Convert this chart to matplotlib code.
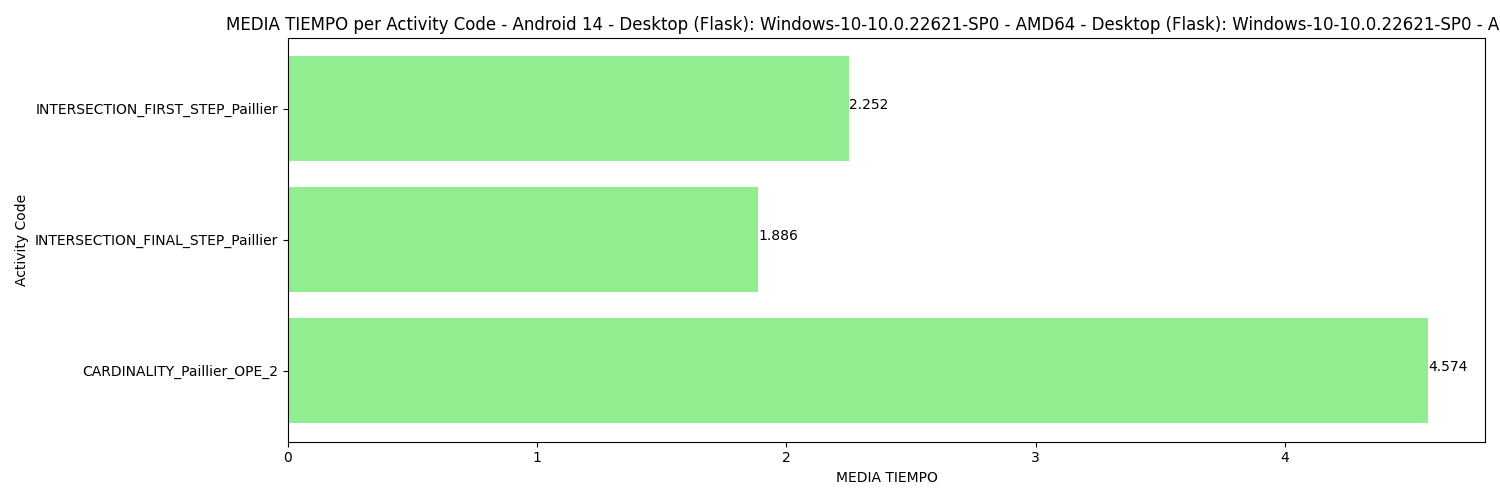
import matplotlib
matplotlib.use("Agg")
import matplotlib.pyplot as plt

activity_codes = ["CARDINALITY_Paillier_OPE_2",
                  "INTERSECTION_FINAL_STEP_Paillier",
                  "INTERSECTION_FIRST_STEP_Paillier"]
media_tiempo = [4.574, 1.886, 2.252]

title = ("MEDIA TIEMPO per Activity Code - Android 14 - Desktop (Flask): "
         "Windows-10-10.0.22621-SP0 - AMD64 - Desktop (Flask): "
         "Windows-10-10.0.22621-SP0 - AMD64")

fig, ax = plt.subplots(figsize=(15, 5), dpi=100)
bars = ax.barh(activity_codes, media_tiempo, color='lightgreen')
for i, v in enumerate(media_tiempo):
    ax.text(v, i, f"{v:.3f}")

ax.set_xlabel("MEDIA TIEMPO")
ax.set_ylabel("Activity Code")
ax.set_title(title)
plt.subplots_adjust(left=0.192, right=0.99, top=0.924, bottom=0.117)
plt.savefig("out.png")
